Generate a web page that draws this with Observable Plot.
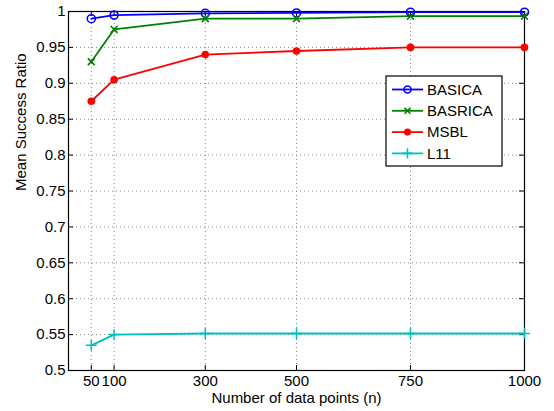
<!DOCTYPE html>
<html><head><meta charset="utf-8">
<script src="https://cdn.jsdelivr.net/npm/d3@7"></script>
<script src="https://cdn.jsdelivr.net/npm/@observablehq/plot@0.6"></script>
<style>body{margin:0;background:#fff}</style>
</head><body><div id="chart"></div>
<script>
const xs = [50, 100, 300, 500, 750, 1000];
const basica = [0.990, 0.995, 0.9975, 0.998, 0.999, 0.999];
const basrica = [0.930, 0.975, 0.990, 0.990, 0.9935, 0.9935];
const msbl = [0.875, 0.905, 0.940, 0.945, 0.950, 0.950];
const l11 = [0.535, 0.550, 0.5515, 0.5515, 0.5515, 0.5515];
const seriesNames = ["BASICA", "BASRICA", "MSBL", "L11"];
const xTicks = [50, 100, 300, 500, 750, 1000];
const yTicks = [0.5, 0.55, 0.6, 0.65, 0.7, 0.75, 0.8, 0.85, 0.9, 0.95, 1];
const xLabel = "Number of data points (n)";
const yLabel = "Mean Success Ratio";

const colors = {BASICA: "#0000ff", BASRICA: "#008000", MSBL: "#ff0000", L11: "#00bfbf"};
const seriesVals = [basica, basrica, msbl, l11];
const data = [];
seriesNames.forEach((s, k) => xs.forEach((x, i) => data.push({series: s, x, y: seriesVals[k][i]})));
const sel = s => data.filter(d => d.series === s);

const font = "'Liberation Sans', Arial, Helvetica, sans-serif";
const fs = 15;
const plot = Plot.plot({
  width: 554, height: 411,
  marginLeft: 68, marginRight: 30, marginTop: 11, marginBottom: 41,
  x: {domain: [0, 1000]},
  y: {domain: [0.5, 1]},
  style: {fontFamily: font, fontSize: fs + "px", background: "#fff", color: "#000"},
  marks: [
    Plot.gridX(xTicks, {stroke: "#888", strokeOpacity: 1, strokeDasharray: "1,3"}),
    Plot.gridY(yTicks, {stroke: "#888", strokeOpacity: 1, strokeDasharray: "1,3"}),
    Plot.axisX(xTicks, {tickSize: 0, tickPadding: 5, label: null, fontSize: fs, tickFormat: d => String(d)}),
    Plot.axisY(yTicks, {tickSize: 0, tickPadding: 3, label: null, fontSize: fs, tickFormat: d => String(+d.toFixed(2))}),
    Plot.ruleX(xTicks, {x: d => d, y1: 0.5, y2: 0.5, insetTop: -5, stroke: "#000"}),
    Plot.ruleX(xTicks, {x: d => d, y1: 1, y2: 1, insetBottom: -5, stroke: "#000"}),
    Plot.ruleY(yTicks, {y: d => d, x1: 0, x2: 0, insetRight: -5, stroke: "#000"}),
    Plot.ruleY(yTicks, {y: d => d, x1: 1000, x2: 1000, insetLeft: -5, stroke: "#000"}),
    Plot.frame({stroke: "#000", strokeWidth: 1.2}),
    Plot.text([xLabel], {frameAnchor: "bottom", lineAnchor: "middle", dy: 28, text: d => d, fontSize: fs}),
    Plot.text([yLabel], {frameAnchor: "left", lineAnchor: "middle", dx: -47, rotate: -90, text: d => d, fontSize: fs}),
    ...seriesNames.map(s => Plot.line(sel(s), {x: "x", y: "y", stroke: colors[s], strokeWidth: 1.8})),
    Plot.dot(sel("BASICA"), {x: "x", y: "y", r: 4, stroke: colors.BASICA, strokeWidth: 1.6, fill: "none"}),
    Plot.dot(sel("BASRICA"), {x: "x", y: "y", r: 3.2, symbol: "times", stroke: colors.BASRICA, strokeWidth: 1.6}),
    Plot.dot(sel("MSBL"), {x: "x", y: "y", r: 3.8, fill: colors.MSBL, stroke: "none"}),
    Plot.dot(sel("L11"), {x: "x", y: "y", r: 3.6, symbol: "plus", stroke: colors.L11, strokeWidth: 1.5})
  ]
});
document.getElementById("chart").appendChild(plot);

// legend
const svg = d3.select(plot);
const lg = svg.append("g").attr("font-family", font).attr("font-size", fs + "px").attr("text-anchor", "start");
lg.append("rect").attr("x", 386).attr("y", 76).attr("width", 116).attr("height", 90)
  .attr("fill", "#fff").attr("stroke", "#000").attr("stroke-width", 1.2);
const symGen = {
  BASICA: d3.symbol(d3.symbolCircle, 40),
  BASRICA: d3.symbol(d3.symbolTimes, 25),
  MSBL: d3.symbol(d3.symbolCircle, 40),
  L11: d3.symbol(d3.symbolPlus, 35)
};
seriesNames.forEach((s, i) => {
  const yy = 89.5 + i * 21.3;
  lg.append("line").attr("x1", 392).attr("x2", 423).attr("y1", yy).attr("y2", yy)
    .attr("stroke", colors[s]).attr("stroke-width", 1.8);
  const p = lg.append("path").attr("d", symGen[s]()).attr("transform", `translate(407.5,${yy})`);
  if (s === "MSBL") p.attr("fill", colors[s]);
  else p.attr("fill", "none").attr("stroke", colors[s]).attr("stroke-width", 1.6);
  lg.append("text").attr("x", 427).attr("y", yy).attr("dy", "0.35em").text(s);
});
</script>
</body></html>
